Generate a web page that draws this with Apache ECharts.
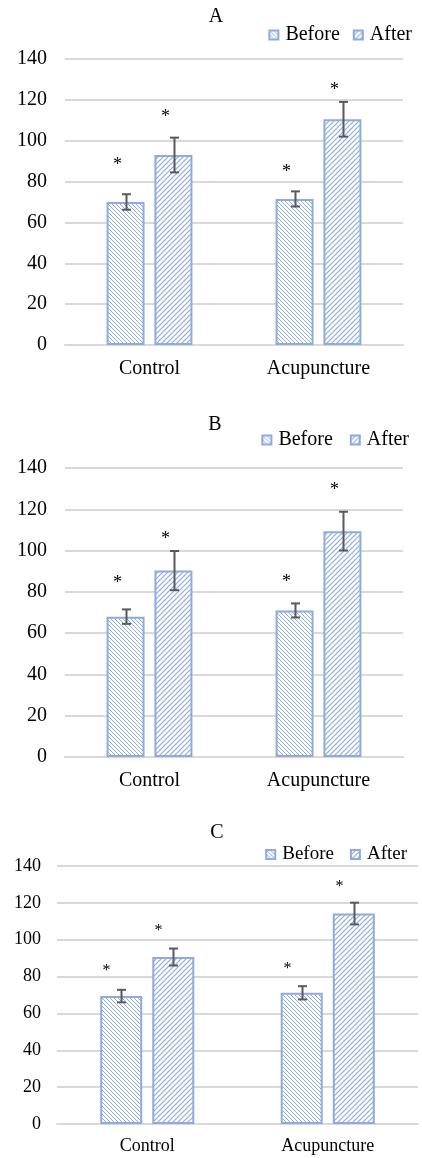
<!DOCTYPE html>
<html><head><meta charset="utf-8">
<script src="https://cdn.jsdelivr.net/npm/echarts@6/dist/echarts.min.js"></script>
<style>html,body{margin:0;padding:0;background:#fff}#c{width:422px;height:1158px}</style>
</head><body><div id="c"></div>
<script>
// ---------- data ----------
var categories = ['Control', 'Acupuncture'];
var seriesNames = ['Before', 'After'];
var panelTitles = ['A', 'B', 'C'];
var yMin = 0, yMax = 140, yInterval = 20;

var beforeA = [70, 71.5];   var beforeErrA = [3.8, 3.7];
var afterA  = [93, 110.5];  var afterErrA  = [8.5, 8.5];
var starBeforeA = [90.6, 87.3]; var starAfterA = [114.5, 127.5];

var beforeB = [68, 71];     var beforeErrB = [3.5, 3.4];
var afterB  = [90.3, 109.4]; var afterErrB = [9.5, 9.4];
var starBeforeB = [86.8, 87.3]; var starAfterB = [108.3, 132];

var beforeC = [69.4, 71.2]; var beforeErrC = [3.4, 3.6];
var afterC  = [90.6, 114.2]; var afterErrC = [4.6, 5.9];
var starBeforeC = [85.7, 87.2]; var starAfterC = [107.5, 131.5];

var panelData = [
  {before: beforeA, beforeErr: beforeErrA, after: afterA, afterErr: afterErrA, starB: starBeforeA, starA: starAfterA},
  {before: beforeB, beforeErr: beforeErrB, after: afterB, afterErr: afterErrB, starB: starBeforeB, starA: starAfterB},
  {before: beforeC, beforeErr: beforeErrC, after: afterC, afterErr: afterErrC, starB: starBeforeC, starA: starAfterC}
];

// ---------- layout / style ----------
var FONT = '"Liberation Serif", "Times New Roman", serif';
var BLUE = '#8FAADC';
var layouts = [
  {grid: {left: 65, right: 19, top: 59, height: 286}, font: 20, barW: 38, gap: 10, starDx: -9, starFont: 18,
   titleY: 18, titleX: 216, legendY: 36, legendRight: 10, legendGap: 13, legendFont: 20, yMargin: 18, xMargin: 14},
  {grid: {left: 65, right: 19, top: 468, height: 289}, font: 20, barW: 38, gap: 10, starDx: -9, starFont: 18,
   titleY: 426, titleX: 215, legendY: 441, legendRight: 13, legendGap: 17, legendFont: 20, yMargin: 18, xMargin: 14},
  {grid: {left: 57, right: 4, top: 866, height: 258}, font: 18, barW: 42, gap: 10, starDx: -15, starFont: 16,
   titleY: 834, titleX: 217, legendY: 856, legendRight: 15, legendGap: 16, legendFont: 19, yMargin: 16, xMargin: 13}
];

function hatch(size, dir, lw) {
  var c = document.createElement('canvas');
  c.width = c.height = size;
  var g = c.getContext('2d');
  g.fillStyle = '#ffffff'; g.fillRect(0, 0, size, size);
  g.strokeStyle = BLUE; g.lineWidth = lw;
  g.beginPath();
  for (var k = -1; k <= 1; k++) {
    if (dir > 0) { g.moveTo(k * size - 1, -1); g.lineTo(k * size + size + 1, size + 1); }
    else { g.moveTo(k * size - 1, size + 1); g.lineTo(k * size + size + 1, -1); }
  }
  g.stroke();
  return c;
}
var patBefore = {image: hatch(4, 1, 1), repeat: 'repeat'};
var patAfter = {image: hatch(5, -1, 1.2), repeat: 'repeat'};

function errRender(offset, starDx, starFont) {
  return function (params, api) {
    var cat = api.value(0), v = api.value(1), e = api.value(2), s = api.value(3);
    var hi = api.coord([cat, v + e]);
    var lo = api.coord([cat, v - e]);
    var st = api.coord([cat, s]);
    var x = Math.round(hi[0] + offset) + 0.5;
    var cap = 4.5;
    var ls = {stroke: '#595959', lineWidth: 2};
    return {
      type: 'group',
      children: [
        {type: 'line', shape: {x1: x, y1: hi[1], x2: x, y2: lo[1]}, style: ls},
        {type: 'line', shape: {x1: x - cap, y1: hi[1], x2: x + cap, y2: hi[1]}, style: ls},
        {type: 'line', shape: {x1: x - cap, y1: lo[1], x2: x + cap, y2: lo[1]}, style: ls},
        {type: 'text', x: x + starDx, y: st[1] + starFont * 0.32,
         style: {text: '*', font: starFont + 'px ' + FONT, fill: '#000', align: 'center', verticalAlign: 'middle'}}
      ]
    };
  };
}

var option = {
  animation: false,
  backgroundColor: '#fff',
  title: [], legend: [], grid: [], xAxis: [], yAxis: [], series: []
};

layouts.forEach(function (L, i) {
  var D = panelData[i];
  option.title.push({
    text: panelTitles[i], left: L.titleX, top: L.titleY - 11, textAlign: 'center', padding: 0,
    textStyle: {fontFamily: FONT, fontSize: 20, fontWeight: 'normal', color: '#000'}
  });
  option.legend.push({
    data: seriesNames, right: L.legendRight, top: L.legendY - 11, padding: 0,
    itemWidth: 9, itemHeight: 9, itemGap: L.legendGap, icon: 'rect',
    textStyle: {fontFamily: FONT, fontSize: L.legendFont, color: '#000', padding: [0, 0, 0, 2]}
  });
  option.grid.push(L.grid);
  option.xAxis.push({
    type: 'category', gridIndex: i, data: categories,
    axisLine: {lineStyle: {color: '#d9d9d9', width: 2}}, axisTick: {show: false},
    axisLabel: {fontFamily: FONT, fontSize: L.font, color: '#000', margin: L.xMargin}
  });
  option.yAxis.push({
    type: 'value', gridIndex: i, min: yMin, max: yMax, interval: yInterval,
    axisLine: {show: false}, axisTick: {show: false},
    splitLine: {lineStyle: {color: '#d9d9d9', width: 2}},
    axisLabel: {fontFamily: FONT, fontSize: L.font, color: '#000', margin: L.yMargin}
  });
  var gapPct = Math.round(L.gap / L.barW * 100) + '%';
  option.series.push({
    name: 'Before', type: 'bar', xAxisIndex: i, yAxisIndex: i, data: D.before,
    barWidth: L.barW, barGap: gapPct,
    itemStyle: {color: patBefore, borderColor: BLUE, borderWidth: 2}
  });
  option.series.push({
    name: 'After', type: 'bar', xAxisIndex: i, yAxisIndex: i, data: D.after,
    barWidth: L.barW, barGap: gapPct,
    itemStyle: {color: patAfter, borderColor: BLUE, borderWidth: 2}
  });
  var half = (L.barW + L.gap) / 2;
  option.series.push({
    name: 'errBefore' + i, type: 'custom', xAxisIndex: i, yAxisIndex: i, z: 5,
    encode: {x: 0, y: 1},
    data: categories.map(function (c, k) { return [k, D.before[k], D.beforeErr[k], D.starB[k]]; }),
    renderItem: errRender(-half, L.starDx, L.starFont)
  });
  option.series.push({
    name: 'errAfter' + i, type: 'custom', xAxisIndex: i, yAxisIndex: i, z: 5,
    encode: {x: 0, y: 1},
    data: categories.map(function (c, k) { return [k, D.after[k], D.afterErr[k], D.starA[k]]; }),
    renderItem: errRender(half, L.starDx, L.starFont)
  });
});

var chart = echarts.init(document.getElementById('c'), null, {renderer: 'canvas'});
chart.setOption(option);
</script>
</body></html>
